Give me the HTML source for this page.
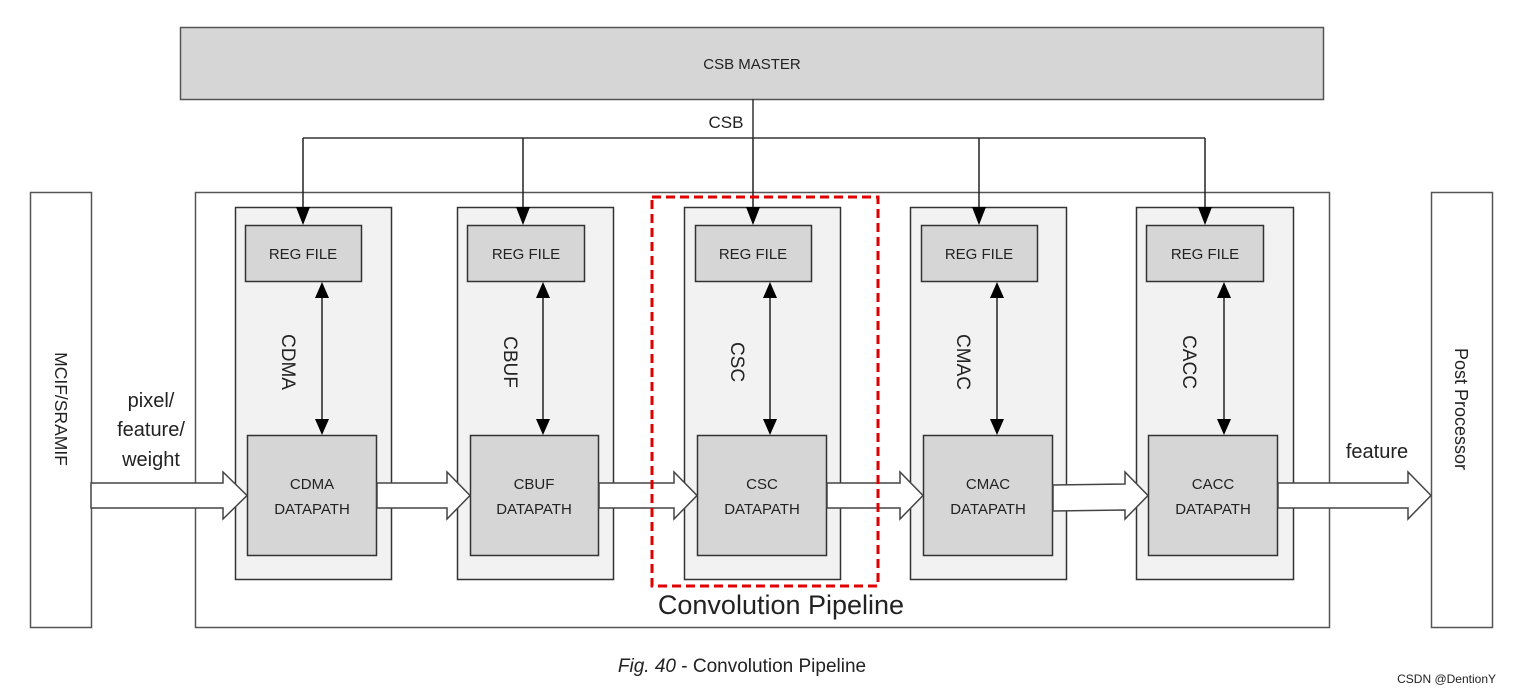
<!DOCTYPE html>
<html><head><meta charset="utf-8"><style>
html,body{margin:0;padding:0;background:#fff;}
svg{display:block;}
text{font-family:"Liberation Sans",sans-serif;fill:#222;}
</style></head><body>
<svg width="1514" height="691" viewBox="0 0 1514 691" xmlns="http://www.w3.org/2000/svg">
<!-- CSB master -->
<rect x="180.5" y="27.5" width="1143" height="72" fill="#d6d6d6" stroke="#555" stroke-width="1.5"/>
<text x="752" y="69" font-size="15" text-anchor="middle">CSB MASTER</text>
<!-- outer boxes -->
<rect x="30.5" y="192.5" width="61" height="435" fill="#fff" stroke="#555" stroke-width="1.5"/>
<rect x="195.5" y="192.5" width="1134" height="435" fill="#fff" stroke="#555" stroke-width="1.5"/>
<rect x="1431.5" y="192.5" width="61" height="435" fill="#fff" stroke="#555" stroke-width="1.5"/>
<text transform="translate(55,409) rotate(90)" font-size="17.5" text-anchor="middle">MCIF/SRAMIF</text>
<text transform="translate(1455,409) rotate(90)" font-size="18" text-anchor="middle">Post Processor</text>
<!-- CSB bus -->
<line x1="753" y1="99" x2="753" y2="138" stroke="#333" stroke-width="1.5"/>
<line x1="303" y1="138" x2="1205" y2="138" stroke="#333" stroke-width="1.5"/>
<text x="726" y="128" font-size="17" text-anchor="middle">CSB</text>
<g stroke="#333" stroke-width="1.5" fill="#f2f2f2">
<rect x="235.5" y="207.5" width="156" height="372"/>
<rect x="457.5" y="207.5" width="156" height="372"/>
<rect x="684.5" y="207.5" width="156" height="372"/>
<rect x="910.5" y="207.5" width="156" height="372"/>
<rect x="1136.5" y="207.5" width="157" height="372"/>
</g>
<g stroke="#333" stroke-width="1.5" fill="#d6d6d6">
<rect x="245.5" y="225.5" width="116" height="56"/>
<rect x="467.5" y="225.5" width="117" height="56"/>
<rect x="695.5" y="225.5" width="116" height="56"/>
<rect x="921.5" y="225.5" width="116" height="56"/>
<rect x="1146.5" y="225.5" width="117" height="56"/>
<rect x="247.5" y="435.5" width="129" height="120"/>
<rect x="470.5" y="435.5" width="128" height="120"/>
<rect x="697.5" y="435.5" width="129" height="120"/>
<rect x="923.5" y="435.5" width="129" height="120"/>
<rect x="1148.5" y="435.5" width="129" height="120"/>
</g>
<g font-size="15" text-anchor="middle">
<text x="303" y="259">REG FILE</text><text x="526" y="259">REG FILE</text><text x="753" y="259">REG FILE</text><text x="979" y="259">REG FILE</text><text x="1205" y="259">REG FILE</text>
<text x="312" y="489">CDMA</text><text x="312" y="514">DATAPATH</text>
<text x="534" y="489">CBUF</text><text x="534" y="514">DATAPATH</text>
<text x="762" y="489">CSC</text><text x="762" y="514">DATAPATH</text>
<text x="988" y="489">CMAC</text><text x="988" y="514">DATAPATH</text>
<text x="1213" y="489">CACC</text><text x="1213" y="514">DATAPATH</text>
</g>
<g font-size="19" text-anchor="middle">
<text transform="translate(282,362) rotate(90)">CDMA</text>
<text transform="translate(504,362) rotate(90)">CBUF</text>
<text transform="translate(731,362) rotate(90)">CSC</text>
<text transform="translate(957,362) rotate(90)">CMAC</text>
<text transform="translate(1183,362) rotate(90)">CACC</text>
</g>
<g stroke="#222" stroke-width="1.5">
<line x1="303" y1="138" x2="303" y2="210"/><line x1="523" y1="138" x2="523" y2="210"/><line x1="753" y1="138" x2="753" y2="210"/><line x1="979" y1="138" x2="979" y2="210"/><line x1="1205" y1="138" x2="1205" y2="210"/>
<line x1="322" y1="296" x2="322" y2="420"/><line x1="543" y1="296" x2="543" y2="420"/><line x1="770" y1="296" x2="770" y2="420"/><line x1="997" y1="296" x2="997" y2="420"/><line x1="1224" y1="296" x2="1224" y2="420"/>
</g>
<g fill="#000">
<path d="M296,207 L310,207 L303,225 z"/><path d="M516,207 L530,207 L523,225 z"/><path d="M746,207 L760,207 L753,225 z"/><path d="M972,207 L986,207 L979,225 z"/><path d="M1198,207 L1212,207 L1205,225 z"/>
<path d="M315,298 L329,298 L322,282 z"/><path d="M536,298 L550,298 L543,282 z"/><path d="M763,298 L777,298 L770,282 z"/><path d="M990,298 L1004,298 L997,282 z"/><path d="M1217,298 L1231,298 L1224,282 z"/>
<path d="M315,419 L329,419 L322,435 z"/><path d="M536,419 L550,419 L543,435 z"/><path d="M763,419 L777,419 L770,435 z"/><path d="M990,419 L1004,419 L997,435 z"/><path d="M1217,419 L1231,419 L1224,435 z"/>
</g>
<g fill="#fff" stroke="#444" stroke-width="1.5">
<path d="M91,483 L223,483 L223,472 L247,495.5 L223,519 L223,508 L91,508 z"/>
<path d="M377,483 L447,483 L447,472 L470,495.5 L447,519 L447,508 L377,508 z"/>
<path d="M599,483 L674,483 L674,472 L697,495.5 L674,519 L674,508 L599,508 z"/>
<path d="M827,483 L900,483 L900,472 L923,495.5 L900,519 L900,508 L827,508 z"/>
<path d="M1053,485 L1125,484 L1125,472 L1148,495.5 L1125,519 L1125,510 L1053,511 z"/>
<path d="M1278,483 L1408,483 L1408,472 L1431,495.5 L1408,519 L1408,508 L1278,508 z"/>
</g>
<g font-size="20" text-anchor="middle">
<text x="151" y="407">pixel/</text><text x="151" y="436">feature/</text><text x="151" y="466">weight</text>
<text x="1377" y="458">feature</text>
</g>
<rect x="652" y="197" width="226" height="389" fill="none" stroke="#e00000" stroke-width="3" stroke-dasharray="9,5"/>
<text x="781" y="614" font-size="27" text-anchor="middle">Convolution Pipeline</text>
<text x="742" y="672" font-size="19" text-anchor="middle" fill="#444"><tspan font-style="italic">Fig. 40</tspan> - Convolution Pipeline</text>
<text x="1496" y="683" font-size="12" text-anchor="end" fill="#999">CSDN @DentionY</text>
</svg>
</body></html>
